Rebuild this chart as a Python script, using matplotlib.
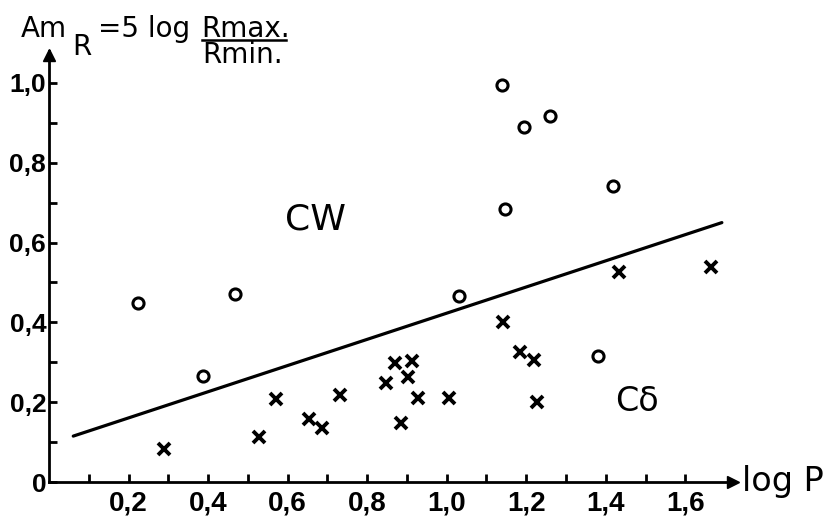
import numpy as np
import matplotlib
matplotlib.use('Agg')
import matplotlib.pyplot as plt
from matplotlib.lines import Line2D

#%% data
# CW stars (circles)
cw_logP = [0.224, 0.387, 0.467, 1.030, 1.139, 1.146, 1.194, 1.261, 1.380, 1.417]
cw_amp = [0.449, 0.266, 0.470, 0.466, 0.995, 0.684, 0.890, 0.916, 0.316, 0.742]
# C delta stars (crosses)
cd_logP = [0.290, 0.529, 0.570, 0.654, 0.686, 0.731, 0.847, 0.871, 0.885, 0.902,
           0.912, 0.927, 1.005, 1.142, 1.184, 1.219, 1.227, 1.433, 1.665]
cd_amp = [0.082, 0.112, 0.208, 0.157, 0.136, 0.218, 0.247, 0.297, 0.149, 0.264,
          0.302, 0.211, 0.211, 0.400, 0.325, 0.306, 0.200, 0.527, 0.540]
# dividing line
line_logP = [0.061, 1.692]
line_amp = [0.115, 0.650]

xticks = [0.1 * i for i in range(1, 17)]
xticklabels = ['' if i % 2 else '%d,%d' % divmod(i, 10) for i in range(1, 17)]
yticks = [0.1 * i for i in range(0, 11)]
yticklabels = ['0' if i == 0 else ('' if i % 2 else '%d,%d' % divmod(i, 10)) for i in range(0, 11)]

#%% plot
tickfont = ['Liberation Sans', 'DejaVu Sans']
W, H = 826, 518

fig = plt.figure(figsize=(8.26, 5.18), dpi=100)
ax = fig.add_axes([49 / W, 1 - 482 / H, 684 / W, 431 / H])

ax.plot(line_logP, line_amp, color='k', lw=2.3, solid_capstyle='round')
ax.plot(cw_logP, cw_amp, 'o', ms=8, mfc='none', mec='k', mew=2.2, clip_on=False)
ax.plot(cd_logP, cd_amp, 'x', ms=8, mec='k', mew=2.8, clip_on=False)

ax.set_xlim(0, 1.72)
ax.set_ylim(0, 1.08)
for s in ['top', 'right']:
    ax.spines[s].set_visible(False)
for s in ['left', 'bottom']:
    ax.spines[s].set_linewidth(2.0)
ax.plot(1, 0, '>k', ms=9, transform=ax.get_yaxis_transform(), clip_on=False)
ax.plot(0, 0.99, '^k', ms=9, transform=ax.get_xaxis_transform(), clip_on=False)

ax.set_xticks(xticks)
ax.set_xticklabels(xticklabels, family=tickfont, fontweight='bold', fontsize=20)
ax.set_yticks(yticks)
ax.set_yticklabels(yticklabels, family=tickfont, fontweight='bold', fontsize=19)
ax.tick_params(axis='both', direction='in', length=6, width=2)
ax.tick_params(axis='x', pad=6)
ax.tick_params(axis='y', pad=2)

ax.text(0.67, 0.657, 'CW', fontsize=26, ha='center', va='center')
ax.text(1.478, 0.201, 'C\u03b4', fontsize=24, ha='center', va='center')

fig.text(742 / W, 1 - 482 / H, 'log P', fontsize=24, ha='left', va='center')

# y axis title: Am_R = 5 log Rmax./Rmin.
fs = 20
fig.text(21 / W, 1 - 37 / H, 'Am', fontsize=fs, ha='left', va='baseline')
fig.text(72 / W, 1 - 55 / H, 'R', fontsize=fs, ha='left', va='baseline')
fig.text(98 / W, 1 - 37 / H, '=5 log', fontsize=fs, ha='left', va='baseline')
fig.text(201 / W, 1 - 37 / H, 'Rmax.', fontsize=fs, ha='left', va='baseline')
fig.text(202 / W, 1 - 63 / H, 'Rmin.', fontsize=fs, ha='left', va='baseline')
fig.add_artist(Line2D([202 / W, 286 / W], [1 - 40 / H, 1 - 40 / H], color='k', lw=1.8,
                      transform=fig.transFigure))

fig.savefig('out.png', dpi=100)
plt.close()
